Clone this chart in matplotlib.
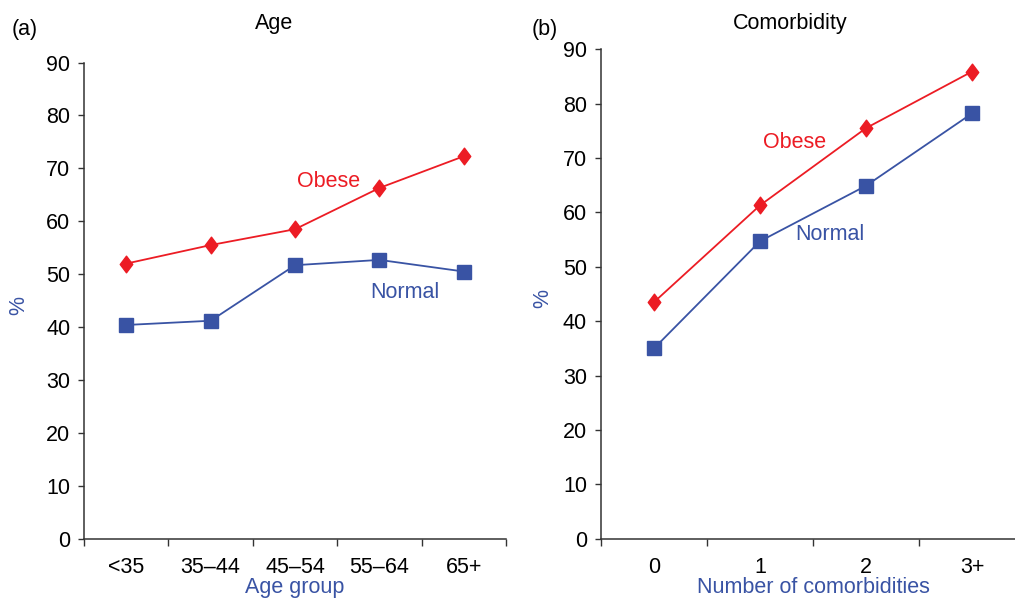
import matplotlib
matplotlib.use("Agg")
import matplotlib.pyplot as plt
import numpy as np
from matplotlib.path import Path

plt.rcParams["font.family"] = ["Liberation Sans", "DejaVu Sans"]

RED = "#ec1c24"
BLUE = "#3953a4"
AXIS = "#333333"
FS = 15.5

# Panel (a): share by age group
age_groups = ["<35", "35\u201344", "45\u201354", "55\u201364", "65+"]
age_obese = [52.0, 55.5, 58.5, 66.3, 72.3]
age_normal = [40.4, 41.2, 51.7, 52.7, 50.5]

# Panel (b): share by number of comorbidities
comorb_groups = ["0", "1", "2", "3+"]
comorb_obese = [43.5, 61.3, 75.5, 85.9]
comorb_normal = [35.0, 54.7, 64.9, 78.2]

y_ticks = list(range(0, 100, 10))

# slightly squat diamond
diamond = Path([(0, 1), (0.75, 0), (0, -1), (-0.75, 0), (0, 1)],
               [Path.MOVETO, Path.LINETO, Path.LINETO, Path.LINETO, Path.CLOSEPOLY])


def style_axes(ax, labels, xlabel):
    n = len(labels)
    ax.set_xlim(-0.5, n - 0.5)
    ax.set_ylim(0, 90)
    for side in ("top", "right"):
        ax.spines[side].set_visible(False)
    for side in ("left", "bottom"):
        ax.spines[side].set_color(AXIS)
        ax.spines[side].set_linewidth(1.1)
    ax.set_yticks(y_ticks)
    ax.tick_params(axis="y", direction="out", length=4, width=1.0, color=AXIS,
                   labelsize=FS, pad=6)
    # boundary ticks without labels, labels centred on the categories
    ax.set_xticks(np.arange(-0.5, n, 1.0))
    ax.set_xticklabels([])
    ax.set_xticks(np.arange(n), minor=True)
    ax.set_xticklabels(labels, minor=True)
    ax.tick_params(axis="x", which="major", direction="out", length=5, width=1.0,
                   color=AXIS)
    ax.tick_params(axis="x", which="minor", length=0, labelsize=FS, pad=13)
    ax.set_xlabel(xlabel, color=BLUE, fontsize=FS)
    ax.set_ylabel("%", color=BLUE, fontsize=FS)


def draw_series(ax, obese, normal):
    x = np.arange(len(obese))
    ax.plot(x, normal, color=BLUE, lw=1.3, marker="s", ms=9.5,
            mfc=BLUE, mec=BLUE, zorder=3)
    ax.plot(x, obese, color=RED, lw=1.3, marker=diamond, ms=12,
            mfc=RED, mec=RED, zorder=3)


fig = plt.figure(figsize=(10.15, 6.02), dpi=100)

ax1 = fig.add_axes([0.0828, 0.1051, 0.4158, 0.791])
draw_series(ax1, age_obese, age_normal)
style_axes(ax1, age_groups, "Age group")
ax1.yaxis.set_label_coords(-0.13, 0.49)
ax1.xaxis.set_label_coords(0.5, -0.081)
ax1.text(2.02, 67.6, "Obese", color=RED, fontsize=FS, ha="left", va="center")
ax1.text(2.89, 46.5, "Normal", color=BLUE, fontsize=FS, ha="left", va="center")

ax2 = fig.add_axes([0.5921, 0.1051, 0.4177, 0.813])
draw_series(ax2, comorb_obese, comorb_normal)
style_axes(ax2, comorb_groups, "Number of comorbidities")
ax2.yaxis.set_label_coords(-0.113, 0.49)
ax2.xaxis.set_label_coords(0.5, -0.079)
ax2.text(1.025, 72.8, "Obese", color=RED, fontsize=FS, ha="left", va="center")
ax2.text(1.33, 56.0, "Normal", color=BLUE, fontsize=FS, ha="left", va="center")

fig.text(273.7 / 1015, 1 - 23 / 602, "Age", fontsize=FS, ha="center", va="center")
fig.text(789.7 / 1015, 1 - 23 / 602, "Comorbidity", fontsize=FS, ha="center", va="center")
fig.text(12 / 1015, 1 - 30 / 602, "(a)", fontsize=FS, ha="left", va="center")
fig.text(532 / 1015, 1 - 30 / 602, "(b)", fontsize=FS, ha="left", va="center")

fig.savefig("out.png", dpi=100)
